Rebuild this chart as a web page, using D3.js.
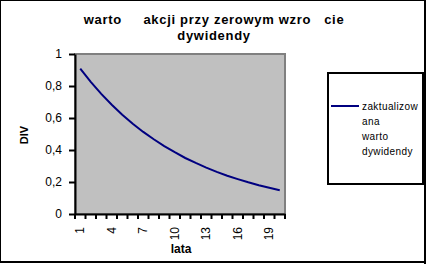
<!DOCTYPE html>
<html><head><meta charset="utf-8">
<script src="https://cdn.jsdelivr.net/npm/d3@7"></script>
<style>
html,body{margin:0;padding:0;background:#fff;}
svg{display:block;}
text{font-family:"Liberation Sans",Arial,sans-serif;}
</style></head>
<body>
<script>
const years = [1,2,3,4,5,6,7,8,9,10,11,12,13,14,15,16,17,18,19,20];
const divValues = [0.909,0.826,0.751,0.683,0.621,0.564,0.513,0.467,0.424,0.386,0.350,0.319,0.290,0.263,0.239,0.218,0.198,0.180,0.164,0.149];
const yTicks = [0,0.2,0.4,0.6,0.8,1];
const xTickLabels = [1,4,7,10,13,16,19];
const titleLines = ["warto     akcji przy zerowym wzro   cie","dywidendy"];
const legendLines = ["zaktualizow","ana","warto","dywidendy"];

const W=426,H=264;
const svg=d3.select("body").append("svg").attr("width",W).attr("height",H);
svg.append("rect").attr("x",0).attr("y",0).attr("width",W).attr("height",H).attr("fill","#fff");

const pl=75,pr=285,pt=54,pb=214;
const x=d3.scaleBand().domain(years).range([pl,pr]);
const y=d3.scaleLinear().domain([0,1]).range([pb,pt]);

// plot area
svg.append("rect").attr("x",pl).attr("y",pt).attr("width",pr-pl).attr("height",pb-pt)
  .attr("fill","#c0c0c0").attr("stroke","#808080").attr("stroke-width",2);

// line
const line=d3.line().x((d,i)=>x(years[i])+x.bandwidth()/2).y(d=>y(d));
svg.append("path").datum(divValues).attr("d",line).attr("fill","none")
  .attr("stroke","#000080").attr("stroke-width",2);

// y axis
const ya=svg.append("g").attr("transform",`translate(${pl},0)`)
  .call(d3.axisLeft(y).tickValues(yTicks).tickSize(6).tickSizeOuter(0)
    .tickFormat(d=>String(d).replace(".",",")));
ya.select(".domain").attr("stroke","#000").attr("stroke-width",2);
ya.selectAll(".tick line").attr("stroke","#000").attr("stroke-width",2);
ya.selectAll(".tick text").attr("font-size",12).attr("fill","#000").attr("x",-13)
  .attr("font-family","Liberation Sans, Arial, sans-serif");

// x axis
const xa=svg.append("g").attr("transform",`translate(0,${pb})`)
  .call(d3.axisBottom(x).tickSize(0).tickSizeOuter(0).tickFormat(""));
xa.select(".domain").attr("stroke","#000").attr("stroke-width",2);
xa.selectAll(".tick").remove();
// tick marks at band boundaries
const bounds=years.map(d=>x(d)).concat([pr]);
svg.append("g").selectAll("line").data(bounds).join("line")
  .attr("x1",d=>d).attr("x2",d=>d).attr("y1",pb).attr("y2",pb+5)
  .attr("stroke","#000").attr("stroke-width",2);
svg.append("g").selectAll("text").data(xTickLabels).join("text")
  .attr("transform",d=>`translate(${x(d)+x.bandwidth()/2+4},227) rotate(-90)`)
  .attr("text-anchor","end").attr("font-size",12).attr("fill","#000").text(d=>d);

// axis titles
svg.append("text").attr("x",(pl+pr)/2+1).attr("y",253).attr("text-anchor","middle")
  .attr("font-size",12).attr("font-weight","bold").text("lata");
svg.append("text").attr("transform",`translate(28,${(pt+pb)/2+1}) rotate(-90)`).attr("text-anchor","middle")
  .attr("font-size",11).attr("font-weight","bold").text("DIV");

// title
svg.append("g").selectAll("text").data(titleLines).join("text")
  .attr("x",214).attr("y",(d,i)=>24+i*16).attr("text-anchor","middle")
  .attr("font-size",13).attr("font-weight","bold").style("white-space","pre")
  .attr("letter-spacing",0.7).text(d=>d);

// legend
svg.append("rect").attr("x",328).attr("y",73).attr("width",95).attr("height",111)
  .attr("fill","#fff").attr("stroke","#000").attr("stroke-width",2);
svg.append("line").attr("x1",331).attr("x2",359).attr("y1",106).attr("y2",106)
  .attr("stroke","#000080").attr("stroke-width",2);
svg.append("g").selectAll("text").data(legendLines).join("text")
  .attr("x",362).attr("y",(d,i)=>110+i*15).attr("font-size",10).attr("letter-spacing",0.4)
  .attr("fill","#000").text(d=>d);

// outer frame
svg.append("rect").attr("x",0.5).attr("y",0.5).attr("width",424).attr("height",261.5)
  .attr("fill","none").attr("stroke","#000").attr("stroke-width",1);
svg.append("line").attr("x1",425).attr("x2",425).attr("y1",0).attr("y2",264).attr("stroke","#000").attr("stroke-width",2);
svg.append("line").attr("x1",0).attr("x2",426).attr("y1",262).attr("y2",262).attr("stroke","#000").attr("stroke-width",2);
</script>
</body></html>
